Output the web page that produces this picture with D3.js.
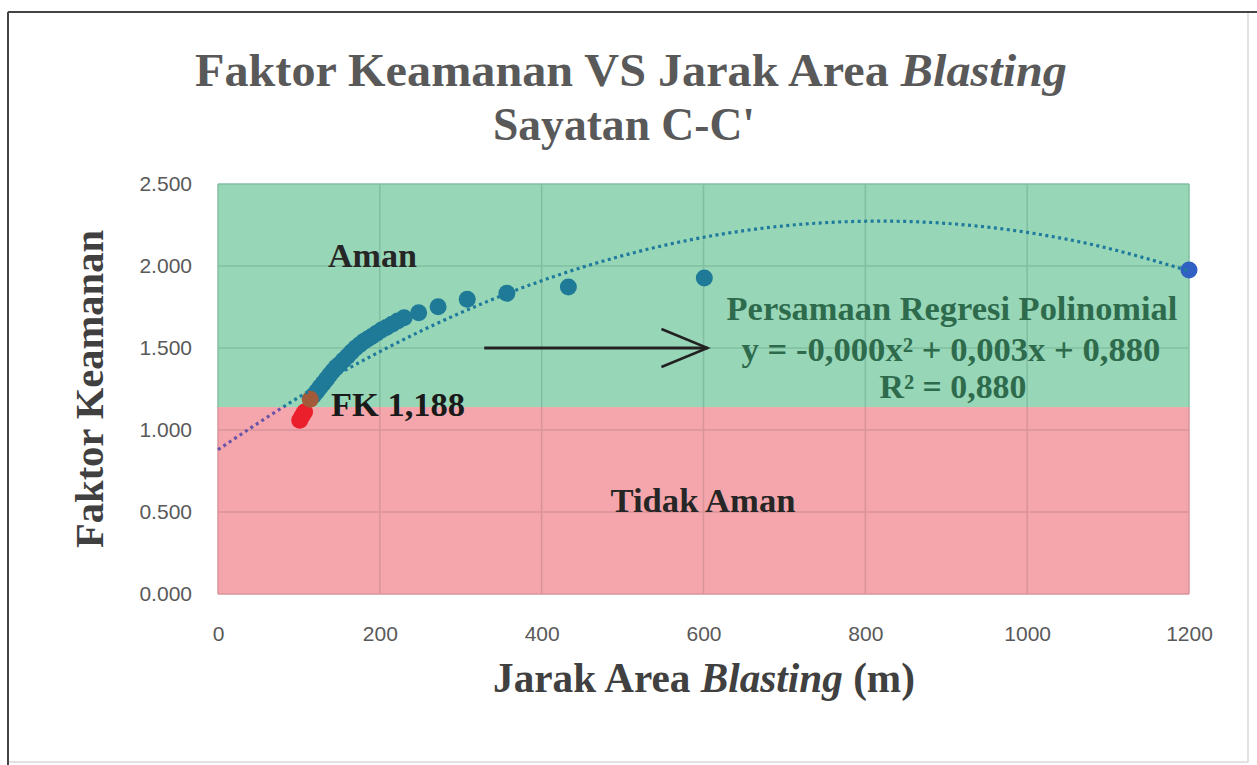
<!DOCTYPE html>
<html><head><meta charset="utf-8">
<script src="https://cdn.jsdelivr.net/npm/d3@7"></script>
<style>
html,body{margin:0;padding:0;background:#fff;}
svg{display:block;}
</style></head>
<body>
<svg id="chart" width="1257" height="765"></svg>
<script>
// ---------- DATA ----------
const xTicks = [0, 200, 400, 600, 800, 1000, 1200];
const yTicks = [0, 0.5, 1.0, 1.5, 2.0, 2.5];
const yTickLabels = ["0.000", "0.500", "1.000", "1.500", "2.000", "2.500"];
const safeLimit = 1.14;           // boundary between "Aman" and "Tidak Aman" zones

// unsafe points (red)
const redX = [101, 104, 107];
const redY = [1.06, 1.085, 1.11];
// critical point FK 1,188 (brown)
const critX = [114];
const critY = [1.188];
// main series (teal)
const pointX = [118, 122, 126, 130, 134, 138, 142, 146, 150, 155, 160, 165, 170, 175, 180, 185, 190, 196, 202, 208, 215, 222, 230, 248, 272, 308, 357, 433, 601];
const pointY = [1.21, 1.235, 1.26, 1.285, 1.31, 1.335, 1.36, 1.382, 1.40, 1.425, 1.45, 1.475, 1.50, 1.52, 1.54, 1.555, 1.57, 1.59, 1.61, 1.625, 1.645, 1.665, 1.685, 1.715, 1.752, 1.797, 1.834, 1.872, 1.927];
// last point (blue)
const lastX = [1200];
const lastY = [1.976];
// polynomial trendline
const trendX = [0, 100, 200, 300, 400, 500, 600, 700, 800, 900, 1000, 1100, 1200];
const trendY = [0.880, 1.200, 1.478, 1.715, 1.910, 2.063, 2.175, 2.245, 2.273, 2.260, 2.205, 2.108, 1.970];

// ---------- LAYOUT ----------
const svg = d3.select("#chart");
const x = d3.scaleLinear().domain([0, 1200]).range([218, 1189]);
const y = d3.scaleLinear().domain([0, 2.5]).range([594, 184]);
const serif = "'Liberation Serif', 'Times New Roman', serif";
const sans = "'Liberation Sans', Arial, sans-serif";

function fit(sel, width) {
  sel.attr("font-size", 100);
  const w = sel.node().getComputedTextLength();
  sel.attr("font-size", 100 * width / w);
  return sel;
}
function squeeze(sel, size, width) {
  sel.attr("font-size", size).attr("textLength", width).attr("lengthAdjust", "spacingAndGlyphs");
  return sel;
}

// outer frame
svg.append("rect").attr("x", 8).attr("y", 12).attr("width", 1240).attr("height", 750)
  .attr("fill", "#fff").attr("stroke", "#d9d9d9").attr("stroke-width", 1.5);
svg.append("line").attr("x1", 8).attr("x2", 8).attr("y1", 12).attr("y2", 765).attr("stroke", "#444").attr("stroke-width", 2);
svg.append("line").attr("x1", 8).attr("x2", 1257).attr("y1", 12).attr("y2", 12).attr("stroke", "#444").attr("stroke-width", 2);

// zones
svg.append("rect").attr("x", x(0)).attr("y", y(2.5)).attr("width", x(1200) - x(0)).attr("height", y(safeLimit) - y(2.5))
  .attr("fill", "#98d6b8");
svg.append("rect").attr("x", x(0)).attr("y", y(safeLimit)).attr("width", x(1200) - x(0)).attr("height", y(0) - y(safeLimit))
  .attr("fill", "#f4a6ac");

// gridlines
const grid = svg.append("g");
yTicks.forEach(v => {
  grid.append("line").attr("x1", x(0)).attr("x2", x(1200)).attr("y1", y(v)).attr("y2", y(v))
    .attr("stroke", v > safeLimit ? "#82bfa2" : "#d9949a").attr("stroke-width", 1.5);
});
xTicks.forEach(v => {
  grid.append("line").attr("x1", x(v)).attr("x2", x(v)).attr("y1", y(2.5)).attr("y2", y(safeLimit))
    .attr("stroke", "#82bfa2").attr("stroke-width", 1.5);
  grid.append("line").attr("x1", x(v)).attr("x2", x(v)).attr("y1", y(safeLimit)).attr("y2", y(0))
    .attr("stroke", "#d9949a").attr("stroke-width", 1.5);
});

// axes (labels only)
const yAxis = d3.axisLeft(y).tickValues(yTicks).tickFormat((d, i) => yTickLabels[i]).tickSize(0).tickPadding(26);
const gy = svg.append("g").attr("transform", `translate(${x(0)},0)`).call(yAxis);
gy.select(".domain").remove();
gy.selectAll("text").attr("font-family", sans).attr("font-size", 21).attr("fill", "#595959");

const xAxis = d3.axisBottom(x).tickValues(xTicks).tickFormat(d3.format("d")).tickSize(0).tickPadding(32);
const gx = svg.append("g").attr("transform", `translate(0,${y(0)})`).call(xAxis);
gx.select(".domain").remove();
gx.selectAll("text").attr("font-family", sans).attr("font-size", 21).attr("fill", "#595959");

// markers
const r = 8.5;
function dots(xs, ys, color) {
  svg.append("g").selectAll("circle").data(xs.map((d, i) => [d, ys[i]])).join("circle")
    .attr("cx", d => x(d[0])).attr("cy", d => y(d[1])).attr("r", r).attr("fill", color);
}
dots(pointX, pointY, "#1f7a98");
dots(redX, redY, "#ea1f2b");
dots(critX, critY, "#a15a3a");
dots(lastX, lastY, "#3160c4");

// trendline (dotted), tinted by zone
const defs = svg.append("defs");
defs.append("clipPath").attr("id", "cg").append("rect")
  .attr("x", 0).attr("y", 0).attr("width", 1257).attr("height", y(safeLimit));
defs.append("clipPath").attr("id", "cr").append("rect")
  .attr("x", 0).attr("y", y(safeLimit)).attr("width", 1257).attr("height", 400);
const line = d3.line().x(d => x(d[0])).y(d => y(d[1])).curve(d3.curveNatural);
const trendData = trendX.map((d, i) => [d, trendY[i]]);
svg.append("path").datum(trendData).attr("d", line).attr("fill", "none")
  .attr("stroke", "#1f7a9c").attr("stroke-width", 3.2).attr("stroke-dasharray", "3,3.5")
  .attr("clip-path", "url(#cg)");
svg.append("path").datum(trendData).attr("d", line).attr("fill", "none")
  .attr("stroke", "#6a54a8").attr("stroke-width", 3.2).attr("stroke-dasharray", "3,3.5")
  .attr("clip-path", "url(#cr)");

// arrow annotation
const arrowY = 1.5;
svg.append("line").attr("x1", x(329)).attr("x2", x(605)).attr("y1", y(arrowY)).attr("y2", y(arrowY))
  .attr("stroke", "#222").attr("stroke-width", 3);
svg.append("path")
  .attr("d", `M${x(548)},${y(arrowY) - 19} L${x(605)},${y(arrowY)} L${x(548)},${y(arrowY) + 19}`)
  .attr("fill", "none").attr("stroke", "#222").attr("stroke-width", 2.5);

// ---------- TEXT ----------
const t1 = svg.append("text").attr("x", 631).attr("y", 86).attr("text-anchor", "middle")
  .attr("font-family", serif).attr("font-weight", "bold").attr("fill", "#595959");
t1.append("tspan").text("Faktor Keamanan VS Jarak Area ");
t1.append("tspan").attr("font-style", "italic").text("Blasting");
squeeze(t1, 46, 872);
const t2 = svg.append("text").attr("x", 624).attr("y", 140).attr("text-anchor", "middle")
  .attr("font-family", serif).attr("font-weight", "bold").attr("fill", "#595959").text("Sayatan C-C'");
squeeze(t2, 46, 262);

const xt = svg.append("text").attr("x", 704).attr("y", 692).attr("text-anchor", "middle")
  .attr("font-family", serif).attr("font-weight", "bold").attr("fill", "#404040");
xt.append("tspan").text("Jarak Area ");
xt.append("tspan").attr("font-style", "italic").text("Blasting");
xt.append("tspan").text(" (m)");
fit(xt, 422);

const yt = svg.append("text").attr("transform", "translate(103,389) rotate(-90)").attr("text-anchor", "middle")
  .attr("font-family", serif).attr("font-weight", "bold").attr("fill", "#404040").text("Faktor Keamanan");
fit(yt, 318);

const aman = svg.append("text").attr("x", 328).attr("y", 267)
  .attr("font-family", serif).attr("font-weight", "bold").attr("fill", "#262626").text("Aman");
fit(aman, 89);
const tidak = svg.append("text").attr("x", 703).attr("y", 512).attr("text-anchor", "middle")
  .attr("font-family", serif).attr("font-weight", "bold").attr("fill", "#262626").text("Tidak Aman");
fit(tidak, 185);
const fk = svg.append("text").attr("x", 331).attr("y", 416)
  .attr("font-family", serif).attr("font-weight", "bold").attr("fill", "#1a1a1a").text("FK 1,188");
fit(fk, 134);

const g1 = svg.append("text").attr("x", 952).attr("y", 320).attr("text-anchor", "middle")
  .attr("font-family", serif).attr("font-weight", "bold").attr("fill", "#2e6b4c").text("Persamaan Regresi Polinomial");
fit(g1, 451);
const g2 = svg.append("text").attr("x", 951).attr("y", 361).attr("text-anchor", "middle")
  .attr("font-family", serif).attr("font-weight", "bold").attr("fill", "#2e6b4c").text("y = -0,000x² + 0,003x + 0,880");
fit(g2, 419);
const g3 = svg.append("text").attr("x", 953).attr("y", 398).attr("text-anchor", "middle")
  .attr("font-family", serif).attr("font-weight", "bold").attr("fill", "#2e6b4c").text("R² = 0,880");
fit(g3, 147);
</script>
</body></html>
